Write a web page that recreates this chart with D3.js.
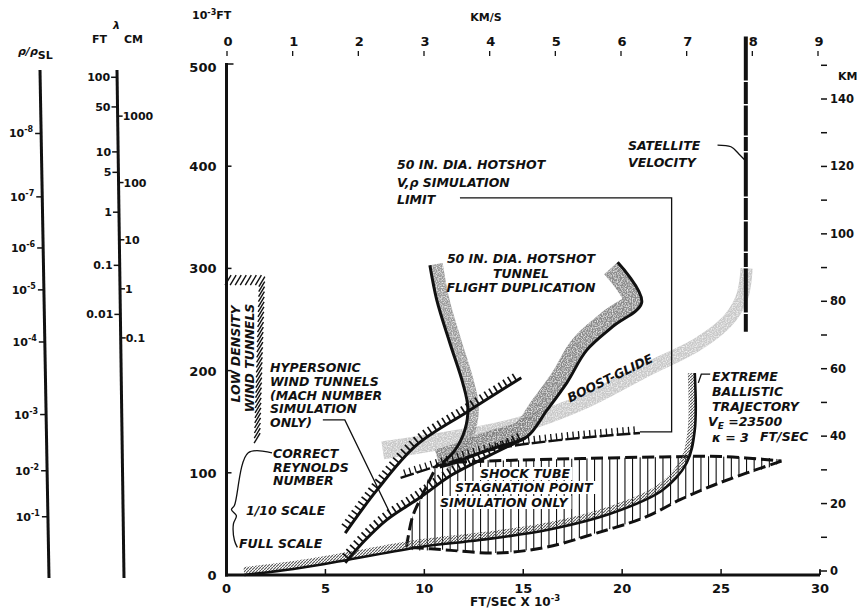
<!DOCTYPE html>
<html><head><meta charset="utf-8">
<script src="https://cdn.jsdelivr.net/npm/d3@7"></script>
<style>
body{margin:0;background:#fff}
svg text{font-family:"DejaVu Sans",sans-serif;fill:#111}
.lt{font-weight:bold;font-style:italic;font-size:12.5px}
.ax{font-weight:bold;font-size:13px}
.sm{font-weight:bold;font-size:11px}
</style></head><body>
<svg id="chart" width="857" height="613"></svg>
<script>
// ---------- axis ticks ----------
const velocityTicks = [0, 5, 10, 15, 20, 25, 30];          // 10^3 ft/s
const altitudeTicks = [0, 100, 200, 300, 400, 500];       // 10^3 ft
const kmPerSecTicks = [0, 1, 2, 3, 4, 5, 6, 7, 8, 9];
const kmTicks = [0, 20, 40, 60, 80, 100, 120, 140];
const kmMinorTicks = [10, 30, 50, 70, 90, 110, 130, 150];

// density ratio scale: exponent and the altitude (10^3 ft) where it occurs
const densityExponents = [-8, -7, -6, -5, -4, -3, -2, -1];
const densityAltitudes = [432, 370, 320, 279, 228, 157, 102, 57];

// mean free path scale: ft labels and cm labels with their altitudes (10^3 ft)
const mfpFeetLabels = ["100", "50", "10", "5", "1", "0.1", "0.01"];
const mfpFeetAltitudes = [487, 458, 414, 394, 355, 303, 255];
const mfpCmLabels = ["1000", "100", "10", "1", "0.1"];
const mfpCmAltitudes = [449, 384, 328, 280, 232];

// ---------- curves: [velocity 10^3 ft/s, altitude 10^3 ft] ----------
const hypersonicUpper = [[6.0, 41], [7.6, 83], [9.6, 127], [12.2, 160], [14.9, 193]];
const hypersonicLower = [[6.0, 12], [7.0, 34], [8.1, 54], [9.8, 76], [11.4, 98], [13.2, 116], [15.1, 134]];
const simulationLimit = [[8.8, 95], [11.3, 110.5], [13.8, 124], [16.8, 132], [20.9, 139]];
const shockTubeTop = [[10.7, 109.6], [14, 112], [18, 114], [22, 115.5], [25, 116], [28.05, 111.5]];
const shockTubeBottom = [[28.05, 111.5], [24.9, 90], [22.9, 73.4], [21.2, 56.8], [18.7, 41], [16.2, 27.4], [13.7, 21.5], [11.1, 24.5], [9.1, 27.4]];
const shockTubeLeft = [[9.1, 27.4], [9.4, 56.8], [9.9, 78.3], [10.7, 109.6]];
const ballistic = [[0.9, 0], [1.8, 2], [3.7, 6.8], [6.1, 14.7], [9.8, 27.4], [12.8, 34.2], [16.2, 44], [19.5, 60.6], [22.05, 83.2], [23.26, 109.6], [23.67, 141.9], [23.67, 197.6]];
const hotshotLeft = [[10.28, 303], [10.63, 269], [11.29, 227], [11.94, 188], [12.2, 164], [12.05, 142], [11.54, 122], [10.93, 110]];
const hotshotRight = [[19.77, 306], [20.98, 266], [19.52, 243], [18.21, 220], [17.2, 188], [16.19, 161], [15.17, 135], [13.66, 125], [12.8, 119.4], [11.64, 110.6], [10.78, 105.7]];
const boostGlide = [[7.9, 122], [11.14, 132], [14.47, 145], [17.85, 168], [21.24, 201], [23.91, 227], [25.43, 251], [26.09, 274], [26.29, 300]];
const satelliteVelocity = 26.25;      // 8 km/s
const satelliteAltitudes = [238, 527];
const lowDensityOutline = [[0.08, 288.6], [1.79, 288.6], [1.54, 129]];

// ---------- scales ----------
const svg = d3.select("#chart");
const x = d3.scaleLinear().domain([0, 30]).range([226.5, 820]);
const y = d3.scaleLinear().domain([0, 500]).range([575, 64]);
const P = d => [x(d[0]), y(d[1])];
const kmsX = d3.scaleLinear().domain([0, 9]).range([227, 818]);
const kmY = d3.scaleLinear().domain([0, 140]).range([571, 99]);

// ---------- defs ----------
const defs = svg.append("defs");
const hp = defs.append("pattern").attr("id", "grayHatch").attr("patternUnits", "userSpaceOnUse")
  .attr("width", 3).attr("height", 3);
hp.append("path").attr("d", "M0,3 L3,0").attr("stroke", "#555").attr("stroke-width", 1.1);
const grain = defs.append("filter").attr("id", "grain").attr("x", "-10%").attr("y", "-10%").attr("width", "120%").attr("height", "120%");
grain.append("feTurbulence").attr("type", "fractalNoise").attr("baseFrequency", 0.8).attr("numOctaves", 1).attr("result", "n");
grain.append("feColorMatrix").attr("in", "n").attr("type", "matrix")
  .attr("values", "0 0 0 0 1  0 0 0 0 1  0 0 0 0 1  0 0 0 -2.2 1.25").attr("result", "w");
grain.append("feComposite").attr("in", "w").attr("in2", "SourceGraphic").attr("operator", "in").attr("result", "wc");
grain.append("feMerge").selectAll("feMergeNode").data(["SourceGraphic", "wc"]).join("feMergeNode").attr("in", d => d);

// ---------- geometry helpers ----------
function sample(pts, curve, step) {
  const tmp = svg.append("path").attr("d", d3.line().curve(curve)(pts.map(P))).attr("fill", "none");
  const node = tmp.node(), L = node.getTotalLength();
  const n = Math.max(2, Math.round(L / step)), out = [];
  for (let i = 0; i <= n; i++) { const p = node.getPointAtLength(L * i / n); out.push([p.x, p.y]); }
  tmp.remove();
  return out;
}
function normals(s) {
  return s.map((p, i) => {
    const a = s[Math.max(0, i - 3)], b = s[Math.min(s.length - 1, i + 3)];
    const dx = b[0] - a[0], dy = b[1] - a[1], l = Math.hypot(dx, dy) || 1;
    return [-dy / l, dx / l];
  });
}
function band(pts, curve, w0, w1, side) {
  const s = sample(pts, curve, 1.5), n = normals(s), m = s.length, A = [], B = [];
  s.forEach((p, i) => {
    const w = w0 + (w1 - w0) * i / (m - 1);
    if (side === 0) {
      A.push([p[0] + n[i][0] * w / 2, p[1] + n[i][1] * w / 2]);
      B.push([p[0] - n[i][0] * w / 2, p[1] - n[i][1] * w / 2]);
    } else {
      A.push(p); B.push([p[0] + side * n[i][0] * w, p[1] + side * n[i][1] * w]);
    }
  });
  return "M" + A.concat(B.reverse()).map(p => p.join(",")).join("L") + "Z";
}
function hatch(g, pts, curve, spacing, len, side, tilt, width) {
  const s = sample(pts, curve, spacing), n = normals(s);
  g.selectAll(null).data(s.slice(1, -1)).join("line")
    .attr("x1", d => d[0]).attr("y1", d => d[1])
    .attr("x2", (d, i) => d[0] + side * len * n[i + 1][0] + tilt)
    .attr("y2", (d, i) => d[1] + side * len * n[i + 1][1])
    .attr("stroke", "#111").attr("stroke-width", width || 1.6);
}
const smooth = d3.curveCatmullRom.alpha(0.5);
const lineGen = d3.line().x(d => x(d[0])).y(d => y(d[1])).curve(smooth);

// ---------- left nomograph scales ----------
function slanted(top, bottom) {
  return h => top[0] + (bottom[0] - top[0]) * (y(h) - top[1]) / (bottom[1] - top[1]);
}
const rhoX = slanted([40, 70], [49, 578]);
const mfpX = slanted([117, 70], [124, 578]);
const nomo = svg.append("g");
[[40, 49], [117, 124]].forEach(xs => {
  nomo.append("line").attr("x1", xs[0]).attr("y1", 70).attr("x2", xs[1]).attr("y2", 578)
    .attr("stroke", "#111").attr("stroke-width", 3);
});
densityExponents.forEach((e, i) => {
  const h = densityAltitudes[i], xx = rhoX(h), yy = y(h);
  nomo.append("line").attr("x1", xx - 6).attr("x2", xx).attr("y1", yy).attr("y2", yy).attr("stroke", "#111").attr("stroke-width", 1.5);
  const t = nomo.append("text").attr("class", "sm").attr("x", xx - 8).attr("y", yy + 4).attr("text-anchor", "end");
  t.append("tspan").text("10");
  t.append("tspan").attr("dy", -5).attr("font-size", "8px").text(String(e));
});
mfpFeetLabels.forEach((l, i) => {
  const h = mfpFeetAltitudes[i], xx = mfpX(h), yy = y(h);
  nomo.append("line").attr("x1", xx - 6).attr("x2", xx).attr("y1", yy).attr("y2", yy).attr("stroke", "#111").attr("stroke-width", 1.5);
  nomo.append("text").attr("class", "sm").attr("x", xx - 7).attr("y", yy + 4).attr("text-anchor", "end").text(l);
});
mfpCmLabels.forEach((l, i) => {
  const h = mfpCmAltitudes[i], xx = mfpX(h), yy = y(h);
  nomo.append("line").attr("x1", xx).attr("x2", xx + 5).attr("y1", yy).attr("y2", yy).attr("stroke", "#111").attr("stroke-width", 1.5);
  nomo.append("text").attr("class", "sm").attr("x", xx + 5).attr("y", yy + 4).text(l);
});
const rt = nomo.append("text").attr("class", "sm").attr("x", 18).attr("y", 55).style("font-style", "italic");
rt.append("tspan").text("ρ/ρ");
rt.append("tspan").attr("dy", 4).attr("font-size", "11px").style("font-style", "normal").text("SL");
nomo.append("text").attr("class", "sm").attr("x", 92).attr("y", 43).text("FT");
nomo.append("text").attr("class", "sm").attr("x", 124).attr("y", 43).text("CM");
nomo.append("text").attr("class", "sm").attr("x", 113).attr("y", 29).style("font-style", "italic").text("λ");

// ---------- main axes ----------
const axes = svg.append("g");
axes.append("line").attr("x1", x(0)).attr("x2", x(0)).attr("y1", y(500) - 1).attr("y2", y(0) + 1.5).attr("stroke", "#111").attr("stroke-width", 3);
axes.append("line").attr("x1", x(0) - 1.5).attr("x2", x(30)).attr("y1", y(0)).attr("y2", y(0)).attr("stroke", "#111").attr("stroke-width", 3);
altitudeTicks.forEach(h => {
  axes.append("line").attr("x1", x(0)).attr("x2", x(0) + (h === 500 ? 7 : 5)).attr("y1", y(h)).attr("y2", y(h)).attr("stroke", "#111").attr("stroke-width", 1.5);
  axes.append("text").attr("class", "ax").attr("x", x(0) - 10).attr("y", y(h) + (h === 500 ? 8 : 5)).attr("text-anchor", "end").text(h);
});
velocityTicks.forEach(v => {
  if (v > 0) axes.append("line").attr("x1", x(v)).attr("x2", x(v)).attr("y1", y(0)).attr("y2", y(0) - 6).attr("stroke", "#111").attr("stroke-width", 1.5);
  axes.append("text").attr("class", "ax").attr("x", x(v)).attr("y", 593).attr("text-anchor", "middle").text(v);
});
const xt = axes.append("text").attr("class", "sm").style("font-size", "12px").attr("x", 470).attr("y", 606);
xt.append("tspan").text("FT/SEC X 10");
xt.append("tspan").attr("dy", -5).attr("font-size", "8.5px").text("-3");
kmPerSecTicks.forEach(k => {
  axes.append("line").attr("x1", kmsX(k)).attr("x2", kmsX(k)).attr("y1", 51).attr("y2", 56).attr("stroke", "#111").attr("stroke-width", 1.3);
  axes.append("text").attr("class", "ax").attr("x", kmsX(k) + 1).attr("y", 46).attr("text-anchor", "middle").text(k);
});
axes.append("text").attr("class", "sm").attr("x", 486).attr("y", 21).attr("text-anchor", "middle").text("KM/S");
const yt = axes.append("text").attr("class", "sm").attr("x", 192).attr("y", 19);
yt.append("tspan").text("10");
yt.append("tspan").attr("dy", -4).attr("font-size", "8px").text("-3");
yt.append("tspan").attr("dy", 4).text("FT");
kmTicks.forEach(k => {
  axes.append("line").attr("x1", x(30) + 1).attr("x2", x(30) + 7).attr("y1", kmY(k)).attr("y2", kmY(k)).attr("stroke", "#111").attr("stroke-width", 1.5);
  axes.append("text").attr("class", "sm").style("font-size", "11.5px").attr("x", x(30) + 10).attr("y", kmY(k) + 4).text(k);
});
kmMinorTicks.forEach(k => {
  axes.append("line").attr("x1", x(30) + 1).attr("x2", x(30) + 7).attr("y1", kmY(k)).attr("y2", kmY(k)).attr("stroke", "#111").attr("stroke-width", 1.5);
});
axes.append("line").attr("x1", x(30)).attr("x2", x(30)).attr("y1", y(0)).attr("y2", y(0) - 5).attr("stroke", "#111").attr("stroke-width", 1.5);
axes.append("text").attr("class", "sm").attr("x", x(30) + 18).attr("y", 80).text("KM");

// ---------- plot contents ----------
const plot = svg.append("g");

// boost-glide corridor
plot.append("path").attr("d", band(boostGlide, smooth, 18, 12, 0)).attr("fill", "#c9c9c9").attr("filter", "url(#grain)");

// shock tube stagnation point simulation region
const shockOutline = shockTubeTop.concat(shockTubeBottom.slice(1), shockTubeLeft.slice(1));
defs.append("clipPath").attr("id", "shockClip").append("path")
  .attr("d", d3.line().x(d => x(d[0])).y(d => y(d[1])).curve(d3.curveCatmullRomClosed)(shockOutline.slice(0, -1)));
const shock = plot.append("g").attr("clip-path", "url(#shockClip)");
shock.selectAll("line").data(d3.range(x(9.0), x(28.2), 7.6)).join("line")
  .attr("x1", d => d).attr("x2", d => d).attr("y1", y(120)).attr("y2", y(15))
  .attr("stroke", "#111").attr("stroke-width", 1.1);
[shockTubeTop, shockTubeBottom, shockTubeLeft].forEach(seg => {
  plot.append("path").attr("d", lineGen(seg)).attr("fill", "none").attr("stroke", "#111")
    .attr("stroke-width", 3).attr("stroke-dasharray", "12 5");
});

// hotshot tunnel flight duplication corridor
plot.append("path").attr("d", band(hotshotLeft, smooth, 13, 10, -1)).attr("fill", "#8a8a8a").attr("opacity", 0.85).attr("filter", "url(#grain)");
plot.append("path").attr("d", band(hotshotRight, d3.curveCatmullRom.alpha(0.9), 18, 18, 1)).attr("fill", "#777").attr("opacity", 0.85).attr("filter", "url(#grain)");
plot.append("path").attr("d", lineGen(hotshotLeft)).attr("fill", "none").attr("stroke", "#111").attr("stroke-width", 3);
plot.append("path").attr("d", d3.line().x(d => x(d[0])).y(d => y(d[1])).curve(d3.curveCatmullRom.alpha(0.9))(hotshotRight))
  .attr("fill", "none").attr("stroke", "#111").attr("stroke-width", 3);

// extreme ballistic trajectory with its shaded edge
plot.append("path").attr("d", band(ballistic, smooth, 8, 7, -1)).attr("fill", "url(#grayHatch)");
plot.append("path").attr("d", lineGen(ballistic)).attr("fill", "none").attr("stroke", "#111").attr("stroke-width", 2.6);

// hypersonic wind tunnel boundaries
[hypersonicUpper, hypersonicLower].forEach(c => {
  plot.append("path").attr("d", lineGen(c)).attr("fill", "none").attr("stroke", "#111").attr("stroke-width", 3);
  hatch(plot.append("g"), c, smooth, 5.5, 8, -1, 0, 1.7);
});

// hotshot V, rho simulation limit
plot.append("path").attr("d", lineGen(simulationLimit)).attr("fill", "none").attr("stroke", "#111")
  .attr("stroke-width", 2.4).attr("stroke-dasharray", "14 3");
hatch(plot.append("g"), simulationLimit, smooth, 5.5, 7, -1, 0, 1.3);

// low density wind tunnels
const ld = plot.append("g");
sample(lowDensityOutline, d3.curveLinear, 5).slice(0, -1).forEach(p => {
  ld.append("line").attr("x1", p[0] - 3).attr("y1", p[1] + 5).attr("x2", p[0] + 3).attr("y2", p[1] - 5)
    .attr("stroke", "#111").attr("stroke-width", 1.4);
});

// satellite velocity
plot.append("line").attr("x1", x(satelliteVelocity)).attr("x2", x(satelliteVelocity))
  .attr("y1", y(satelliteAltitudes[1])).attr("y2", y(satelliteAltitudes[0]))
  .attr("stroke", "#111").attr("stroke-width", 4).attr("stroke-dasharray", "44 1.5 22 1.5 30 1.5 14 1.5");

// ---------- leader lines ----------
const leader = (pts, curve) => plot.append("path").attr("d", d3.line().x(d => x(d[0])).y(d => y(d[1])).curve(curve || d3.curveLinear)(pts))
  .attr("fill", "none").attr("stroke", "#111").attr("stroke-width", 1.3);
leader([[11.8, 369], [22.5, 369], [22.5, 140], [20.9, 140]]);
leader([[24.82, 420.7], [25.5, 419], [25.9, 412], [26.2, 406]], smooth);
leader([[4.87, 151.7], [5.98, 151.7], [8.26, 60.7]]);
leader([[2.3, 119.6], [1.1, 119.6], [0.4, 68], [0.25, 64], [0.5, 58], [0.35, 50], [0.4, 34], [0.55, 27]], smooth);
leader([[24.45, 196.5], [24.0, 196.5], [23.85, 188]]);

// ---------- labels ----------
const label = (lines, x0, y0, dy, anchor) => {
  lines.forEach((s, i) => plot.append("text").attr("class", "lt").attr("x", x0).attr("y", y0 + i * dy)
    .attr("text-anchor", anchor || "start").text(s));
};
// text on white where it crosses the shock tube hatching
const boxed = (s, x0, y0) => {
  const t = plot.append("text").attr("class", "lt").attr("x", x0).attr("y", y0).text(s);
  const b = t.node().getBBox();
  plot.insert("rect", () => t.node()).attr("x", b.x - 2).attr("y", b.y + 1).attr("width", b.width + 4).attr("height", b.height - 2).attr("fill", "#fff");
};
boxed("SHOCK TUBE", 480, 478);
boxed("STAGNATION POINT", 455, 492);
boxed("SIMULATION ONLY", 440, 507);
label(["50 IN. DIA. HOTSHOT", "V,ρ  SIMULATION", "LIMIT"], 397, 169, 17.5);
label(["50 IN. DIA. HOTSHOT", "TUNNEL", "FLIGHT DUPLICATION"], 521, 263, 14.5, "middle");
label(["SATELLITE", "VELOCITY"], 628, 150, 17);
label(["HYPERSONIC", "WIND TUNNELS", "(MACH NUMBER", "SIMULATION", "ONLY)"], 270, 372, 13.8);
label(["CORRECT", "REYNOLDS", "NUMBER"], 273, 458, 13.5);
label(["1/10 SCALE"], 246, 515, 0);
label(["FULL SCALE"], 239, 548, 0);
label(["EXTREME", "BALLISTIC", "TRAJECTORY"], 712, 381, 15);
const ve = plot.append("text").attr("class", "lt").attr("x", 708).attr("y", 426);
ve.append("tspan").text("V");
ve.append("tspan").attr("dy", 3).attr("font-size", "9px").text("E");
ve.append("tspan").attr("dy", -3).text(" =23500");
label(["κ = 3"], 712, 442, 0);
label(["FT/SEC"], 760, 441, 0);
plot.append("text").attr("class", "lt").attr("transform", "translate(612,382) rotate(-26)").attr("text-anchor", "middle").text("BOOST-GLIDE");
plot.append("text").attr("class", "lt").attr("transform", "translate(240,354) rotate(-90)").attr("text-anchor", "middle").text("LOW DENSITY");
plot.append("text").attr("class", "lt").attr("transform", "translate(254,358) rotate(-90)").attr("text-anchor", "middle").text("WIND TUNNELS");
</script></body></html>
